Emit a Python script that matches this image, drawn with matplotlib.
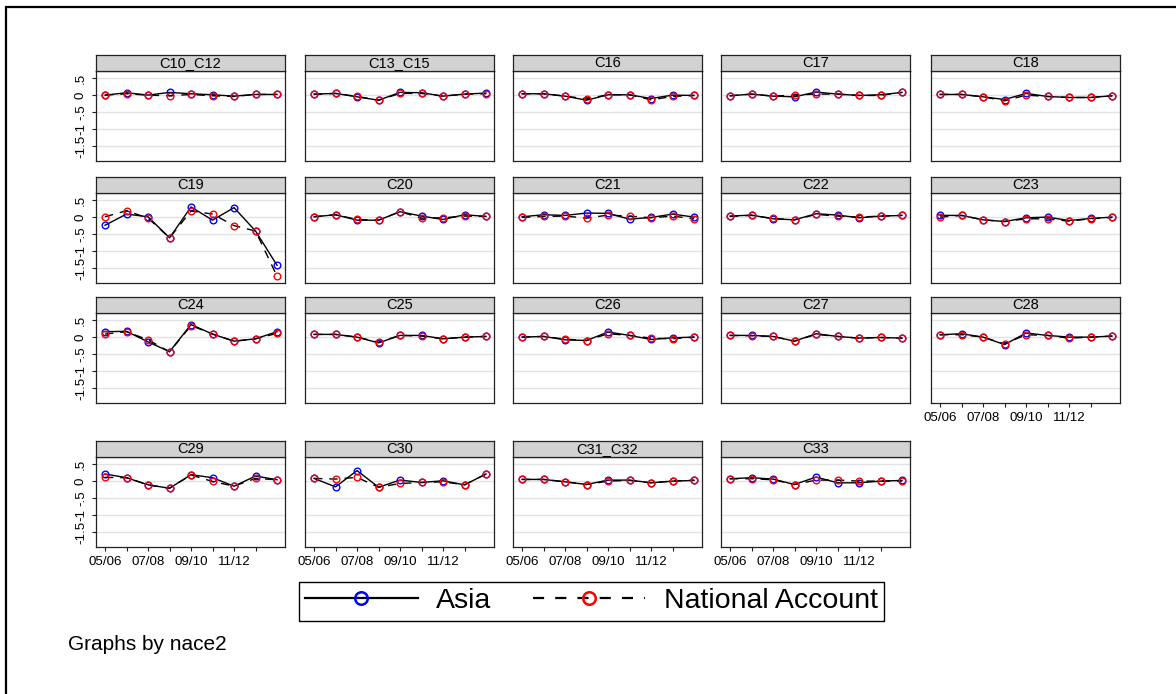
import numpy as np
import matplotlib
matplotlib.use("Agg")
import matplotlib.pyplot as plt
from matplotlib.lines import Line2D
from matplotlib.patches import Rectangle

plt.rcParams['font.family'] = ['Liberation Sans', 'DejaVu Sans']

# --- data ---
period_ticks = ["05/06", "", "07/08", "", "09/10", "", "11/12", ""]
sectors = ["C10_C12", "C13_C15", "C16", "C17", "C18",
           "C19", "C20", "C21", "C22", "C23",
           "C24", "C25", "C26", "C27", "C28",
           "C29", "C30", "C31_C32", "C33"]

asia = [
    [0.00, 0.07, 0.00, 0.08, 0.04, 0.01, -0.03, 0.02, 0.02],
    [0.03, 0.05, -0.05, -0.15, 0.08, 0.07, -0.03, 0.03, 0.06],
    [0.04, 0.04, -0.03, -0.15, 0.01, 0.01, -0.10, 0.00, -0.01],
    [-0.02, 0.03, -0.03, -0.05, 0.09, 0.03, -0.01, 0.01, 0.08],
    [0.02, 0.02, -0.05, -0.13, 0.05, -0.04, -0.07, -0.07, -0.02],
    [-0.24, 0.09, 0.01, -0.61, 0.30, -0.09, 0.28, -0.41, -1.42],
    [0.01, 0.07, -0.09, -0.09, 0.16, 0.03, -0.07, 0.07, 0.02],
    [0.01, 0.07, 0.05, 0.12, 0.11, -0.06, -0.01, 0.09, 0.00],
    [0.03, 0.06, -0.05, -0.08, 0.10, 0.06, -0.02, 0.03, 0.05],
    [0.05, 0.05, -0.08, -0.13, -0.02, 0.00, -0.10, -0.04, 0.00],
    [0.16, 0.17, -0.14, -0.43, 0.37, 0.09, -0.12, -0.05, 0.16],
    [0.08, 0.08, 0.00, -0.17, 0.05, 0.05, -0.05, 0.00, 0.02],
    [0.00, 0.02, -0.08, -0.10, 0.15, 0.05, -0.07, -0.02, 0.00],
    [0.05, 0.05, 0.02, -0.12, 0.10, 0.02, -0.03, -0.01, -0.03],
    [0.07, 0.10, 0.00, -0.22, 0.12, 0.05, 0.00, 0.00, 0.03],
    [0.21, 0.10, -0.11, -0.21, 0.19, 0.10, -0.15, 0.15, 0.04],
    [0.08, -0.17, 0.31, -0.18, 0.03, -0.04, 0.01, -0.11, 0.21],
    [0.05, 0.05, -0.02, -0.10, 0.03, 0.03, -0.05, 0.00, 0.02],
    [0.07, 0.10, 0.06, -0.10, 0.12, -0.05, -0.05, 0.00, 0.02],
]

nat_acc = [
    [0.00, 0.04, 0.00, -0.02, 0.02, -0.02, -0.04, 0.02, 0.02],
    [0.02, 0.05, -0.04, -0.15, 0.05, 0.05, -0.03, 0.03, 0.04],
    [0.04, 0.04, -0.03, -0.11, 0.01, 0.01, -0.14, -0.04, -0.01],
    [-0.02, 0.03, -0.03, 0.00, 0.03, 0.03, -0.01, -0.01, 0.08],
    [0.02, 0.02, -0.05, -0.17, 0.00, -0.04, -0.07, -0.07, -0.02],
    [0.01, 0.19, -0.03, -0.61, 0.18, 0.09, -0.25, -0.41, -1.74],
    [0.01, 0.07, -0.07, -0.09, 0.16, -0.03, -0.02, 0.03, 0.02],
    [-0.01, 0.02, 0.03, -0.03, 0.06, 0.03, -0.02, 0.03, -0.05],
    [0.02, 0.05, -0.04, -0.08, 0.08, 0.03, 0.00, 0.03, 0.05],
    [0.00, 0.05, -0.08, -0.13, -0.05, -0.05, -0.12, -0.05, -0.01],
    [0.09, 0.16, -0.08, -0.43, 0.34, 0.09, -0.12, -0.05, 0.11],
    [0.08, 0.08, 0.00, -0.15, 0.05, 0.03, -0.05, 0.00, 0.02],
    [0.00, 0.02, -0.06, -0.10, 0.10, 0.05, -0.03, -0.05, 0.00],
    [0.05, 0.04, 0.02, -0.12, 0.08, 0.02, -0.03, -0.01, -0.03],
    [0.07, 0.07, 0.00, -0.20, 0.07, 0.05, -0.03, 0.00, 0.03],
    [0.11, 0.10, -0.11, -0.21, 0.18, -0.01, -0.15, 0.08, 0.04],
    [0.08, 0.06, 0.11, -0.18, -0.07, -0.04, -0.02, -0.11, 0.21],
    [0.05, 0.05, -0.02, -0.10, 0.00, 0.02, -0.05, 0.00, 0.03],
    [0.07, 0.07, 0.04, -0.10, 0.03, 0.03, 0.00, 0.00, 0.00],
]

y_ticks = [0.5, 0, -0.5, -1, -1.5]
y_labels = [".5", "0", "-.5", "-1", "-1.5"]

# --- layout (pixels) ---
W, H = 1176, 694
col_left = [96, 305, 513, 721, 931]
row_top = [55, 177, 297, 441]
pw, strip_h, plot_h = 189, 16, 90

fig = plt.figure(figsize=(W / 100, H / 100), dpi=100)

def fax(x, y, w, h):
    return fig.add_axes([x / W, 1 - (y + h) / H, w / W, h / H])

x = np.arange(1, 10)
n = len(sectors)
for i, name in enumerate(sectors):
    r, c = divmod(i, 5)
    x0, y0 = col_left[c], row_top[r]

    ax = fax(x0, y0 + strip_h, pw, plot_h)
    ax.plot(x, asia[i], '-', color='black', lw=1.0, marker='o',
            mfc='none', mec='blue', ms=4.8, mew=1.0, zorder=3)
    ax.plot(x, nat_acc[i], color='black', lw=1.0, ls=(0, (6, 5)), marker='o',
            mfc='none', mec='red', ms=4.8, mew=1.0, zorder=4)
    ax.set_xlim(0.58, 9.37)
    ax.set_ylim(-1.94, 0.71)
    ax.set_yticks(y_ticks)
    ax.yaxis.grid(True, color='#e3e3e3', lw=1.0)
    ax.set_axisbelow(True)
    for s in ax.spines.values():
        s.set_color('#222222')
        s.set_linewidth(0.9)
    ax.tick_params(direction='out', length=3, width=0.8, labelsize=9.6,
                   colors='#222222', labelcolor='black')
    ax.set_xticks(np.arange(1, 9))

    if c == 0:
        ax.set_yticklabels(y_labels, rotation=90, va='center')
    else:
        ax.tick_params(axis='y', length=0)
        ax.set_yticklabels([])

    if i + 5 < n:
        ax.tick_params(axis='x', length=0)
        ax.set_xticklabels([])
    else:
        ax.set_xticklabels(period_ticks)

    # strip header, drawn above the plot box so the underscore is not hidden
    sa = fax(x0, y0, pw, strip_h)
    sa.set_zorder(5)
    sa.set_facecolor('#d2d2d2')
    sa.set_xticks([])
    sa.set_yticks([])
    for s in sa.spines.values():
        s.set_color('#222222')
        s.set_linewidth(0.9)
    sa.text(0.5, 0.5, name, ha='center', va='center', fontsize=10.5,
            transform=sa.transAxes)

# legend
handles = [
    Line2D([], [], color='black', lw=1.6, marker='o', mfc='none',
           mec='blue', ms=9, mew=1.8),
    Line2D([], [], color='black', lw=1.6, ls=(0, (5, 5)), marker='o',
           mfc='none', mec='red', ms=9, mew=1.8),
]
leg = fig.legend(handles, ["Asia", "National Account"], ncol=2,
                 loc='upper left', bbox_to_anchor=(299 / W, 1 - 582 / H),
                 borderaxespad=0, fontsize=20.5, handlelength=3.95,
                 handletextpad=0.65, columnspacing=1.45, borderpad=0.22,
                 fancybox=False, framealpha=1)
leg.get_frame().set_edgecolor('black')
leg.get_frame().set_linewidth(1.0)

fig.text(68 / W, 1 - 645 / H, "Graphs by nace2", fontsize=15, va='center')

# outer frame
fig.patches.append(Rectangle((6 / W, -0.2), 1.2, 1 - 7 / H + 0.2,
                             transform=fig.transFigure, fill=False,
                             edgecolor='black', lw=1.6))

fig.savefig("out.png", dpi=100)
